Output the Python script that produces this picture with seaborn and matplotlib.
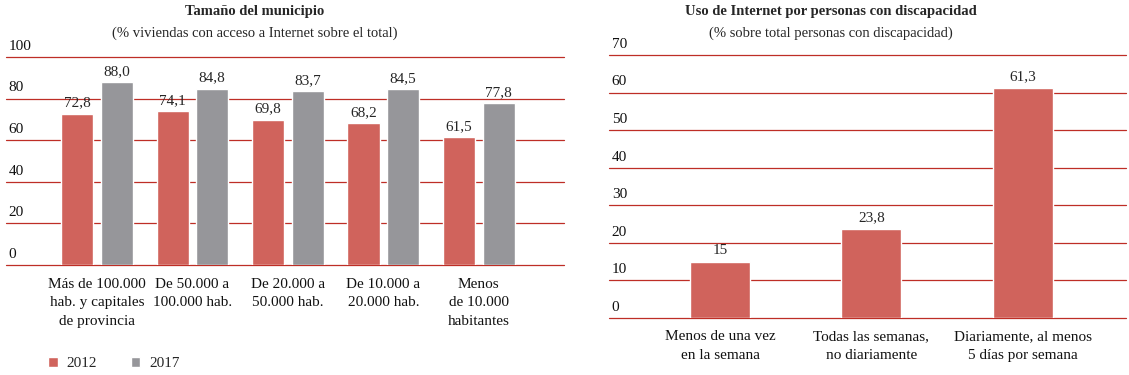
import pandas as pd
import numpy as np
import matplotlib.pyplot as plt
import matplotlib.transforms as mtransforms
import seaborn as sns

# Datos: tamaño del municipio (% viviendas con acceso a Internet)
municipios = ["Más de 100.000\nhab. y capitales\nde provincia", "De 50.000 a\n100.000 hab.",
              "De 20.000 a\n50.000 hab.", "De 10.000 a\n20.000 hab.", "Menos\nde 10.000\nhabitantes"]
anios = ["2012", "2017"]
v2012 = [72.8, 74.1, 69.8, 68.2, 61.5]
v2017 = [88.0, 84.8, 83.7, 84.5, 77.8]

# Datos: uso de Internet por personas con discapacidad
frecuencia = ["Menos de una vez\nen la semana", "Todas las semanas,\nno diariamente",
              "Diariamente, al menos\n5 días por semana"]
uso = [15, 23.8, 61.3]
uso_labels = ["15", "23,8", "61,3"]

ROJO = "#D0635C"
GRIS = "#96969A"
LINEA = "#BE2E26"

sns.set_theme(style="white")
plt.rcParams['font.family'] = ['Liberation Serif', 'DejaVu Serif']
plt.rcParams['font.size'] = 11

df_mun = pd.DataFrame({
    'municipio': municipios * 2,
    'valor': v2012 + v2017,
    'anio': [anios[0]] * len(municipios) + [anios[1]] * len(municipios),
})
df_uso = pd.DataFrame({'frecuencia': frecuencia, 'valor': uso})

fig = plt.figure(figsize=(11.29, 3.75), dpi=100)
ax1 = fig.add_axes([0.0053, 0.2933, 0.494, 0.5547])
ax2 = fig.add_axes([0.5394, 0.152, 0.4579, 0.7013])


def estilo(ax, ticks):
    ax.set_yticks(ticks)
    ax.grid(False)
    for t in ticks:
        ax.axhline(t, color=LINEA, lw=0.9, zorder=0, clip_on=False)
    for s in ax.spines.values():
        s.set_visible(False)
    ax.tick_params(axis='y', length=0, pad=-2, labelsize=11, colors='#111111')
    ax.tick_params(axis='x', length=0, pad=9, labelsize=11, colors='#111111')
    # etiquetas del eje y encima de cada línea
    subir = mtransforms.ScaledTranslation(0, 3 / 72, fig.dpi_scale_trans)
    for lab in ax.get_yticklabels():
        lab.set_horizontalalignment('left')
        lab.set_verticalalignment('bottom')
        lab.set_transform(lab.get_transform() + subir)
    for lab in ax.get_xticklabels():
        lab.set_linespacing(1.55)
    ax.set_xlabel('')
    ax.set_ylabel('')


# Panel izquierdo
sns.barplot(data=df_mun, x='municipio', y='valor', hue='anio', palette=[ROJO, GRIS],
            saturation=1, width=0.83, gap=0.19, ax=ax1, zorder=2)
ax1.set_ylim(0, 100)
ax1.set_xlim(-0.953, 4.89)
estilo(ax1, np.arange(0, 101, 20))
for c in ax1.containers:
    ax1.bar_label(c, fmt=lambda v: f"{v:.1f}".replace('.', ','), padding=3, fontsize=11)
sns.move_legend(ax1, loc='center left', bbox_to_anchor=(0.065, -0.475), ncol=2, frameon=False,
                title=None, handlelength=0.6, handleheight=0.6, handletextpad=0.6,
                columnspacing=2.2, borderaxespad=0, fontsize=11)

# Panel derecho
sns.barplot(data=df_uso, x='frecuencia', y='valor', color=ROJO, saturation=1, width=0.396,
            ax=ax2, zorder=2)
ax2.set_ylim(0, 70)
ax2.set_xlim(-0.733, 2.68)
estilo(ax2, np.arange(0, 71, 10))
ax2.bar_label(ax2.containers[0], labels=uso_labels, padding=3, fontsize=11)

# Títulos
fig.text(255 / 1129, 1 - 11 / 375, "Tamaño del municipio", ha='center', va='center',
         fontsize=10.5, fontweight='bold')
fig.text(255 / 1129, 1 - 33 / 375, "(% viviendas con acceso a Internet sobre el total)",
         ha='center', va='center', fontsize=10.5)
fig.text(831 / 1129, 1 - 11 / 375, "Uso de Internet por personas con discapacidad", ha='center',
         va='center', fontsize=10.5, fontweight='bold')
fig.text(831 / 1129, 1 - 33 / 375, "(% sobre total personas con discapacidad)",
         ha='center', va='center', fontsize=10.5)

fig.savefig("out.png", dpi=100)
